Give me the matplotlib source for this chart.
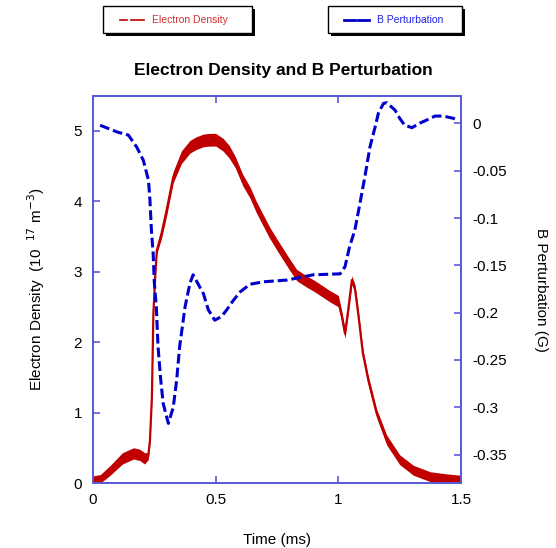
import matplotlib
matplotlib.use("Agg")
import matplotlib.pyplot as plt
from matplotlib.patches import Rectangle
from matplotlib.lines import Line2D
import numpy as np

plt.rcParams['font.family'] = ['Liberation Sans', 'DejaVu Sans']

# ---- data ----
dens_t = [0, 0.03, 0.07, 0.12, 0.165, 0.19, 0.21, 0.225, 0.232, 0.24, 0.246, 0.253,
          0.26, 0.28, 0.30, 0.327, 0.36, 0.395, 0.42, 0.45, 0.475, 0.50, 0.53, 0.555,
          0.58, 0.61, 0.64, 0.665, 0.69, 0.72, 0.75, 0.79, 0.83, 0.87, 0.90, 0.935,
          0.965, 1.0, 1.015, 1.027, 1.04, 1.055, 1.068, 1.081, 1.10, 1.122, 1.156,
          1.197, 1.25, 1.306, 1.374, 1.44, 1.5]
dens_n = [0.05, 0.06, 0.18, 0.35, 0.42, 0.40, 0.35, 0.38, 0.6, 1.22, 2.4, 2.9,
          3.3, 3.55, 3.87, 4.34, 4.62, 4.77, 4.82, 4.86, 4.87, 4.87, 4.80, 4.70,
          4.55, 4.30, 4.12, 3.92, 3.75, 3.55, 3.38, 3.16, 2.95, 2.86, 2.80, 2.72,
          2.65, 2.58, 2.35, 2.12, 2.45, 2.88, 2.75, 2.40, 1.84, 1.46, 0.99,
          0.61, 0.33, 0.18, 0.09, 0.07, 0.06]
dens_noise = [0.05, 0.06, 0.07, 0.08, 0.08, 0.08, 0.08, 0.05, 0.03, 0.03, 0.03, 0.03,
              0.05, 0.07, 0.08, 0.08, 0.09, 0.09, 0.09, 0.09, 0.09, 0.09, 0.09, 0.09,
              0.08, 0.08, 0.08, 0.08, 0.08, 0.08, 0.08, 0.08, 0.08, 0.08, 0.08, 0.08,
              0.08, 0.08, 0.07, 0.07, 0.06, 0.06, 0.06, 0.06, 0.06, 0.06, 0.06,
              0.07, 0.07, 0.07, 0.07, 0.06, 0.05]

b_t = [0.029, 0.097, 0.144, 0.178, 0.205, 0.226, 0.232, 0.238, 0.245, 0.25, 0.258,
       0.265, 0.276, 0.286, 0.307, 0.327, 0.341, 0.353, 0.375, 0.395, 0.408, 0.45,
       0.47, 0.496, 0.524, 0.545, 0.572, 0.6, 0.64, 0.694, 0.79, 0.898, 1.007, 1.027,
       1.046, 1.067, 1.088, 1.108, 1.129, 1.15, 1.163, 1.184, 1.197, 1.231, 1.25,
       1.27, 1.30, 1.33, 1.36, 1.394, 1.428, 1.469, 1.48]
b_val = [-0.002, -0.009, -0.0124, -0.025, -0.039, -0.06, -0.081, -0.113, -0.137, -0.169, -0.194,
         -0.236, -0.271, -0.296, -0.317, -0.30, -0.271, -0.236, -0.194, -0.169, -0.160, -0.18,
         -0.197, -0.208, -0.204, -0.197, -0.187, -0.178, -0.170, -0.1674, -0.1656, -0.160, -0.159, -0.1515,
         -0.130, -0.113, -0.0845, -0.0564, -0.0247, -0.0036, 0.0106, 0.0211, 0.0218, 0.014, 0.0053,
         -0.0018, -0.0046, 0.0, 0.0035, 0.0077, 0.0077, 0.0053, 0.004]

x_ticks = [0, 0.5, 1, 1.5]
x_tick_labels = ['0', '0.5', '1', '1.5']
left_ticks = [0, 1, 2, 3, 4, 5]
right_ticks = [0, -0.05, -0.1, -0.15, -0.2, -0.25, -0.3, -0.35]
right_tick_labels = ['0', '-0.05', '-0.1', '-0.15', '-0.2', '-0.25', '-0.3', '-0.35']

RED = '#c00000'
BLUE = '#0000cc'
SPINE = '#5a5ad8'

fig = plt.figure(figsize=(5.56, 5.48), dpi=100)
ax = fig.add_axes([0.1673, 0.1186, 0.6619, 0.7062])
ax2 = ax.twinx()

lo = np.array(dens_n) - np.array(dens_noise)
hi = np.array(dens_n) + np.array(dens_noise)
ax.fill_between(dens_t, np.clip(lo, 0, None), hi, color=RED, linewidth=0, zorder=2)
ax.plot(dens_t, dens_n, color=RED, lw=1.6, zorder=3)

ax2.plot(b_t, b_val, color=BLUE, lw=2.2, dashes=(3.2, 1.3), zorder=4)

ax.set_xlim(0, 1.5)
ax.set_ylim(0, 5.49)
ax2.set_ylim(-0.380, 0.0289)

ax.set_xticks(x_ticks)
ax.set_xticklabels(x_tick_labels)
ax.set_yticks(left_ticks)
ax.set_yticklabels([str(v) for v in left_ticks])
ax2.set_yticks(right_ticks)
ax2.set_yticklabels(right_tick_labels)

for a in (ax, ax2):
    for s in a.spines.values():
        s.set_color(SPINE)
        s.set_linewidth(1.3)
ax.tick_params(axis='x', direction='in', length=5, width=1.2, color=SPINE,
               labelsize=11, pad=7, top=True)
ax.tick_params(axis='y', direction='in', length=5, width=1.2, color=SPINE,
               labelsize=11, pad=8)
ax2.tick_params(axis='y', direction='in', length=5, width=1.2, color=SPINE,
                labelsize=11, pad=8)

ax.set_xlabel('Time (ms)', fontsize=11, labelpad=19)
ax.set_ylabel(r'Electron Density  (10  $^{17}$ m$^{-3}$)', fontsize=11, labelpad=19)
ax2.set_ylabel('B Perturbation (G)', fontsize=11, rotation=-90, labelpad=30)

fig.text(0.509, 0.871, 'Electron Density and B Perturbation', ha='center', va='center',
         fontsize=12.5, fontweight='bold')

# legend boxes
W, H = 556.0, 548.0
def box(x0, y0, x1, y1):
    fig.add_artist(Rectangle(((x0 + 3) / W, 1 - (y1 + 3) / H), (x1 - x0) / W, (y1 - y0) / H,
                             transform=fig.transFigure, facecolor='black', edgecolor='black', lw=0))
    fig.add_artist(Rectangle((x0 / W, 1 - y1 / H), (x1 - x0) / W, (y1 - y0) / H,
                             transform=fig.transFigure, facecolor='white', edgecolor='black', lw=1))

box(103, 6, 252, 33)
box(328, 6, 462, 33)
ly = 1 - 20 / H
fig.add_artist(Line2D([120 / W, 127 / W], [ly, ly], color=RED, lw=1.2, transform=fig.transFigure))
fig.add_artist(Line2D([131 / W, 144 / W], [ly, ly], color=RED, lw=1.2, transform=fig.transFigure))
fig.add_artist(Line2D([344 / W, 355 / W], [ly, ly], color=BLUE, lw=2, transform=fig.transFigure))
fig.add_artist(Line2D([358 / W, 369 / W], [ly, ly], color=BLUE, lw=2, transform=fig.transFigure))
fig.text(152 / W, ly, 'Electron Density', color='#d03030', fontsize=7.5, va='center', ha='left')
fig.text(377 / W, ly, 'B Perturbation', color='#2020e0', fontsize=7.5, va='center', ha='left')

fig.savefig('out.png', dpi=100)
